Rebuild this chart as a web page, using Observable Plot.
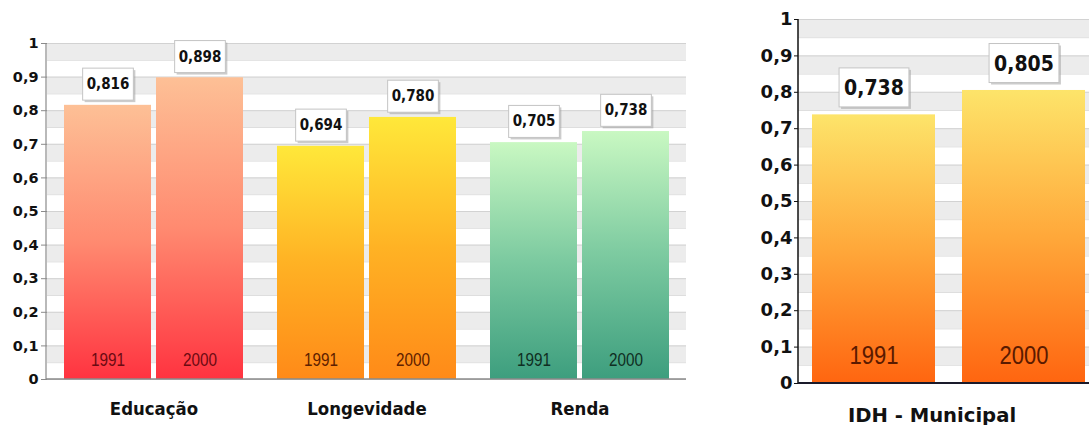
<!DOCTYPE html>
<html><head><meta charset="utf-8">
<script src="https://cdn.jsdelivr.net/npm/d3@7"></script>
<script src="https://cdn.jsdelivr.net/npm/@observablehq/plot@0.6"></script>
<style>
body{margin:0;width:1089px;height:425px;overflow:hidden;background:#fff;position:relative}
#left{position:absolute;left:0;top:0;width:700px}
#right{position:absolute;left:700px;top:0;width:399px}
svg{max-width:none !important}
</style></head><body><div id="left"></div><div id="right"></div>
<script>
// ---- data ----
const categories = ["Educação", "Longevidade", "Renda"];
const years = ["1991", "2000"];
const educacao = [0.816, 0.898];
const longevidade = [0.694, 0.780];
const renda = [0.705, 0.738];
const idhCategory = "IDH - Municipal";
const idh = [0.738, 0.805];
const yTicks = [0, 0.1, 0.2, 0.3, 0.4, 0.5, 0.6, 0.7, 0.8, 0.9, 1];
const bandStarts = [0.0, 0.1, 0.2, 0.3, 0.4, 0.5, 0.6, 0.7, 0.8, 0.9];
const bandEdges = [0.05, 0.15, 0.25, 0.35, 0.45, 0.55, 0.65, 0.75, 0.85, 0.95];

// ---- styles ----
const gradients = {
  "Educação": ["#fdc096", "#ff8a70", "#ff3340"],
  "Longevidade": ["#ffe83a", "#ffb224", "#ff8a18"],
  "Renda": ["#c9f8c2", "#7ccaa0", "#3d9e7e"],
  "IDH - Municipal": ["#fde46a", "#ffa83a", "#ff6510"]
};
const yearColors = {"Educação": "#6b0a12", "Longevidade": "#5e2000", "Renda": "#0f2e22", "IDH - Municipal": "#5a1a00"};
const gradId = c => "g" + Object.keys(gradients).indexOf(c);

const seriesValues = [educacao, longevidade, renda];
const rows = [];
categories.forEach((c, i) => years.forEach((y, j) => rows.push({category: c, year: y, value: seriesValues[i][j]})));
const idhRows = years.map((y, j) => ({category: idhCategory, year: y, value: idh[j]}));

const fmt = v => v.toFixed(3).replace(".", ",");
const tickFmt = d => (d === 0 || d === 1) ? String(d) : d.toFixed(1).replace(".", ",");
const bold = "'DejaVu Sans',sans-serif";
const yearFont = "'Liberation Sans',Arial,sans-serif";

function addDefs(svg) {
  const defs = d3.select(svg).insert("defs", ":first-child");
  for (const [c, [top, mid, bot]] of Object.entries(gradients)) {
    const g = defs.append("linearGradient").attr("id", gradId(c)).attr("x1", 0).attr("y1", 0).attr("x2", 0).attr("y2", 1);
    g.append("stop").attr("offset", "0%").attr("stop-color", top);
    g.append("stop").attr("offset", "50%").attr("stop-color", mid);
    g.append("stop").attr("offset", "100%").attr("stop-color", bot);
  }
}
function squeeze(svg, cls, factor) {
  d3.select(svg).selectAll(`g.${cls} text`).each(function() {
    const len = this.getComputedTextLength();
    this.setAttribute("textLength", len * factor);
    this.setAttribute("lengthAdjust", "spacingAndGlyphs");
  });
}
function addBoxes(svg, padX, padY) {
  d3.select(svg).selectAll("g.vlab text").each(function() {
    const b = this.getBBox();
    const t = this.getAttribute("transform");
    const p = this.parentNode;
    const mk = (dx, fill, stroke, op) => {
      const r = document.createElementNS("http://www.w3.org/2000/svg", "rect");
      r.setAttribute("x", b.x - padX + dx); r.setAttribute("y", b.y - padY + dx);
      r.setAttribute("width", b.width + 2 * padX); r.setAttribute("height", b.height + 2 * padY);
      r.setAttribute("fill", fill); if (stroke) r.setAttribute("stroke", stroke);
      if (op) r.setAttribute("opacity", op);
      if (t) r.setAttribute("transform", t);
      p.insertBefore(r, this);
    };
    mk(2, "#9a9a9a", null, "0.5");
    mk(0, "#fff", "#c4c4c4");
  });
}
function styleText(svg, yearLen) {
  const s = d3.select(svg);
  s.selectAll('g[aria-label="y-axis tick label"]').attr("font-weight", "bold");
  s.selectAll('g[aria-label="y-axis tick label"] text').attr("font-weight", "bold");
  s.selectAll("g.ylab text").attr("textLength", yearLen).attr("lengthAdjust", "spacingAndGlyphs");
}

// ---- left chart ----
const left = Plot.plot({
  width: 700, height: 425, marginLeft: 46, marginRight: 14, marginTop: 43, marginBottom: 46,
  style: {background: "transparent", overflow: "visible"},
  fx: {domain: categories, padding: 0, axis: null},
  x: {domain: years, paddingInner: 0.054, paddingOuter: 0.174, axis: null},
  y: {domain: [0, 1], axis: null},
  marks: [
    Plot.rectY(bandStarts, {y1: d => d + 0.05, y2: d => d + 0.1, fill: "#ececec"}),
    Plot.ruleY(bandEdges, {stroke: "#dedede"}),
    Plot.ruleY(yTicks, {stroke: "#d2d2d2"}),
    Plot.barY(rows, {fx: "category", x: "year", y: "value", fill: d => `url(#${gradId(d.category)})`}),
    Plot.text(rows, {fx: "category", x: "year", y: () => 0, text: "year", dy: -19, fontFamily: yearFont, fontSize: 18, fill: d => yearColors[d.category], className: "ylab"}),
    Plot.text(rows, {fx: "category", x: "year", y: "value", text: d => fmt(d.value), dy: -21, fontFamily: bold, fontWeight: "bold", fontSize: 15, fill: "#111", className: "vlab"}),
    Plot.text(categories, {fx: d => d, text: d => d, frameAnchor: "bottom", dy: 35, fontFamily: bold, fontWeight: "bold", fontSize: 18, fill: "#111", className: "cat"}),
    Plot.axisY({ticks: yTicks, tickFormat: tickFmt, label: null, tickSize: 6, tickPadding: 3, stroke: "#8a8a8a", fontFamily: bold, fontWeight: "bold", fontSize: 14.5, fill: "#111"})
  ]
});
addDefs(left);
document.getElementById("left").append(left);
{
  const fx = left.scale("fx"), y = left.scale("y");
  const s = d3.select(left);
  s.append("line").attr("x1", fx.range[0]).attr("x2", fx.range[0]).attr("y1", y.apply(1)).attr("y2", y.apply(0)).attr("stroke", "#8a8a8a").attr("stroke-width", 1.2);
  s.append("line").attr("x1", fx.range[0]).attr("x2", fx.range[1]).attr("y1", y.apply(0)).attr("y2", y.apply(0)).attr("stroke", "#8a8a8a").attr("stroke-width", 1.5);
}
squeeze(left, "vlab", 0.9);
squeeze(left, "cat", 0.92);
addBoxes(left, 4, 7);
styleText(left, 34);

// ---- right chart ----
const right = Plot.plot({
  width: 399, height: 425, marginLeft: 98, marginRight: 0, marginTop: 19, marginBottom: 42,
  style: {background: "transparent", overflow: "visible"},
  x: {domain: years, paddingInner: 0.18, paddingOuter: 0.0933, axis: null},
  y: {domain: [0, 1], axis: null},
  marks: [
    Plot.rectY(bandStarts, {y1: d => d + 0.05, y2: d => d + 0.1, fill: "#ececec"}),
    Plot.ruleY(bandEdges, {stroke: "#dedede"}),
    Plot.ruleY(yTicks, {stroke: "#d2d2d2"}),
    Plot.barY(idhRows, {x: "year", y: "value", fill: d => `url(#${gradId(d.category)})`}),
    Plot.text(idhRows, {x: "year", y: () => 0, text: "year", dy: -28, fontFamily: yearFont, fontSize: 26, fill: d => yearColors[d.category], className: "ylab"}),
    Plot.text(idhRows, {x: "year", y: "value", text: d => fmt(d.value), dy: -27, fontFamily: bold, fontWeight: "bold", fontSize: 22, fill: "#111", className: "vlab"}),
    Plot.text([idhCategory], {text: d => d, frameAnchor: "bottom", dy: 38, dx: -17, fontFamily: bold, fontWeight: "bold", fontSize: 20, fill: "#111", className: "cat"}),
    Plot.axisY({ticks: yTicks, tickFormat: tickFmt, label: null, tickSize: 4, tickPadding: 2, stroke: "#111", fontFamily: bold, fontWeight: "bold", fontSize: 18, fill: "#111"})
  ]
});
addDefs(right);
document.getElementById("right").append(right);
{
  const x = right.scale("x"), y = right.scale("y");
  const s = d3.select(right);
  s.append("line").attr("x1", x.range[0]).attr("x2", x.range[0]).attr("y1", y.apply(1)).attr("y2", y.apply(0)).attr("stroke", "#111").attr("stroke-width", 1.5);
  s.append("line").attr("x1", x.range[0]).attr("x2", x.range[1]).attr("y1", y.apply(0)).attr("y2", y.apply(0)).attr("stroke", "#1a1a2a").attr("stroke-width", 2);
}
squeeze(right, "vlab", 0.86);
squeeze(right, "cat", 0.98);
addBoxes(right, 5, 7);
styleText(right, 49);
</script></body></html>
